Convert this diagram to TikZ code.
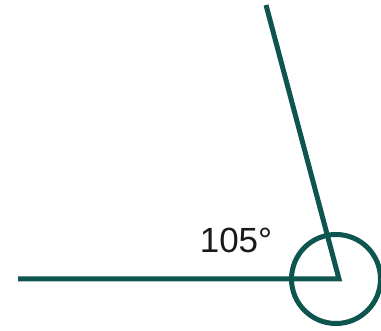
\documentclass[tikz,border=0pt]{standalone}
\usepackage{fontspec}
\setmainfont{Liberation Sans}
\definecolor{teal}{RGB}{14,85,80}
\begin{document}
\begin{tikzpicture}[x=1pt, y=1pt,
    ray/.style={draw=teal, line width=5pt},
    anglelabel/.style={font=\fontsize{35}{40}\selectfont, text=black!90, inner sep=0pt}
]
\useasboundingbox (0,0) rectangle (381,331);
\coordinate (vertex) at (339,52);
\coordinate (leftend) at (18,52);
\coordinate (topend) at (266,326);
\draw[ray] (leftend) -- (vertex) -- (topend);
\draw[ray] (vertex) ++(-3,0) circle[radius=44.5];
\node[anglelabel] (label) at (236,91) {105°};
\end{tikzpicture}
\end{document}
